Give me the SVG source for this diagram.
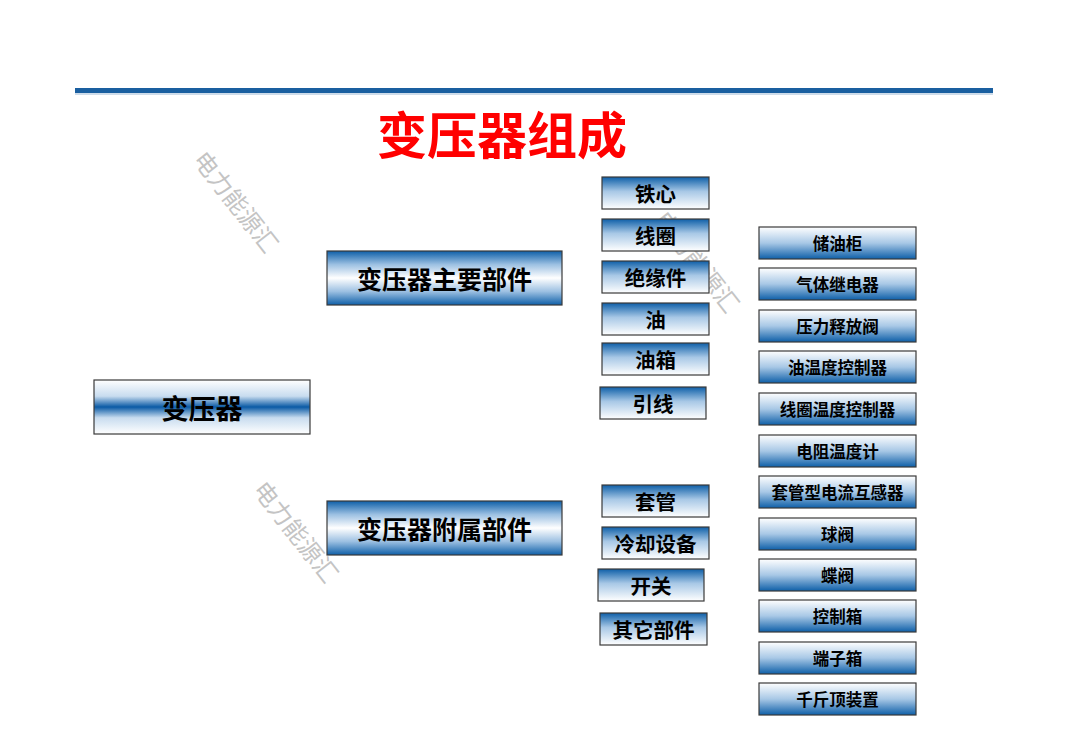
<svg xmlns="http://www.w3.org/2000/svg" width="1080" height="748" viewBox="0 0 1080 748">
<defs>
<linearGradient id="gRoot" x1="0" y1="0" x2="0" y2="1">
<stop offset="0" stop-color="#ffffff"/>
<stop offset="0.3" stop-color="#c8dcef"/>
<stop offset="0.5" stop-color="#0a5aa5"/>
<stop offset="0.7" stop-color="#c8dcef"/>
<stop offset="1" stop-color="#ffffff"/>
</linearGradient>
<linearGradient id="gMid" x1="0" y1="0" x2="0" y2="1">
<stop offset="0" stop-color="#0e5fa8"/>
<stop offset="0.25" stop-color="#9cc0e2"/>
<stop offset="0.5" stop-color="#ffffff"/>
<stop offset="0.75" stop-color="#9cc0e2"/>
<stop offset="1" stop-color="#0e5fa8"/>
</linearGradient>
<linearGradient id="gSmall" x1="0" y1="0" x2="0" y2="1">
<stop offset="0" stop-color="#0e5fa8"/>
<stop offset="0.45" stop-color="#a8c8e6"/>
<stop offset="1" stop-color="#ffffff"/>
</linearGradient>
<linearGradient id="gRight" x1="0" y1="0" x2="0" y2="1">
<stop offset="0" stop-color="#ffffff"/>
<stop offset="0.5" stop-color="#a8c8e6"/>
<stop offset="1" stop-color="#0e5fa8"/>
</linearGradient>
</defs>
<style>
text{font-family:"Noto Sans CJK SC","Liberation Sans",sans-serif;text-anchor:middle;dominant-baseline:central;fill:#000;font-weight:bold}
.box{stroke:#3a3a3a;stroke-width:1.2}
.root{fill:url(#gRoot)}
.mid{fill:url(#gMid)}
.small{fill:url(#gSmall)}
.right{fill:url(#gRight)}
.t-root{font-size:27px}
.t-mid{font-size:25px}
.t-small{font-size:20.5px}
.t-right{font-size:16.5px}
.wm{font-size:24px;fill:#c4c4c4;font-weight:normal;text-anchor:start;dominant-baseline:auto}
.title{font-size:50px;fill:#ff0000;font-weight:bold}
</style>
<rect width="1080" height="748" fill="#ffffff"/>
<rect x="75" y="88" width="918" height="5" fill="#1a5fa0"/>
<rect x="75" y="93" width="918" height="2" fill="#9dbad6" opacity="0.5"/>
<text class="title" x="502" y="132">变压器组成</text>
<g id="watermarks">
<text class="wm" transform="translate(192,160) rotate(52)">电力能源汇</text>
<text class="wm" transform="translate(252,490) rotate(52)">电力能源汇</text>
<text class="wm" transform="translate(653,220) rotate(52)">电力能源汇</text>
</g>
<g id="connectors"></g>
<g id="n-root"><rect class="box root" x="94" y="380" width="216" height="54"/><text class="t-root" x="202" y="407">变压器</text></g>
<g id="n-main"><rect class="box mid" x="327" y="251" width="235" height="54"/><text class="t-mid" x="444.500" y="278">变压器主要部件</text></g>
<g id="n-acc"><rect class="box mid" x="327" y="501" width="235" height="54"/><text class="t-mid" x="444.500" y="528">变压器附属部件</text></g>
<g id="n-core"><rect class="box small" x="602" y="177" width="107" height="32"/><text class="t-small" x="655.500" y="193">铁心</text></g>
<g id="n-coil"><rect class="box small" x="602" y="219" width="107" height="32"/><text class="t-small" x="655.500" y="235">线圈</text></g>
<g id="n-ins"><rect class="box small" x="602" y="261" width="107" height="32"/><text class="t-small" x="655.500" y="277">绝缘件</text></g>
<g id="n-oil"><rect class="box small" x="602" y="303" width="107" height="32"/><text class="t-small" x="655.500" y="319">油</text></g>
<g id="n-tank"><rect class="box small" x="602" y="343" width="107" height="32"/><text class="t-small" x="655.500" y="359">油箱</text></g>
<g id="n-lead"><rect class="box small" x="600" y="387" width="106" height="32"/><text class="t-small" x="653" y="403">引线</text></g>
<g id="n-bush"><rect class="box small" x="602" y="485" width="107" height="32"/><text class="t-small" x="655.500" y="501">套管</text></g>
<g id="n-cool"><rect class="box small" x="602" y="527" width="107" height="32"/><text class="t-small" x="655.500" y="543">冷却设备</text></g>
<g id="n-switch"><rect class="box small" x="598" y="569" width="106" height="32"/><text class="t-small" x="651" y="585">开关</text></g>
<g id="n-other"><rect class="box small" x="600" y="613" width="107" height="32"/><text class="t-small" x="653.500" y="629">其它部件</text></g>
<g id="n-r1"><rect class="box right" x="759" y="227" width="157" height="32"/><text class="t-right" x="837.500" y="243">储油柜</text></g>
<g id="n-r2"><rect class="box right" x="759" y="268" width="157" height="32"/><text class="t-right" x="837.500" y="284">气体继电器</text></g>
<g id="n-r3"><rect class="box right" x="759" y="310" width="157" height="32"/><text class="t-right" x="837.500" y="326">压力释放阀</text></g>
<g id="n-r4"><rect class="box right" x="759" y="351" width="157" height="32"/><text class="t-right" x="837.500" y="367">油温度控制器</text></g>
<g id="n-r5"><rect class="box right" x="759" y="393" width="157" height="32"/><text class="t-right" x="837.500" y="409">线圈温度控制器</text></g>
<g id="n-r6"><rect class="box right" x="759" y="435" width="157" height="32"/><text class="t-right" x="837.500" y="451">电阻温度计</text></g>
<g id="n-r7"><rect class="box right" x="759" y="476" width="157" height="32"/><text class="t-right" x="837.500" y="492">套管型电流互感器</text></g>
<g id="n-r8"><rect class="box right" x="759" y="518" width="157" height="32"/><text class="t-right" x="837.500" y="534">球阀</text></g>
<g id="n-r9"><rect class="box right" x="759" y="559" width="157" height="32"/><text class="t-right" x="837.500" y="575">蝶阀</text></g>
<g id="n-r10"><rect class="box right" x="759" y="600" width="157" height="32"/><text class="t-right" x="837.500" y="616">控制箱</text></g>
<g id="n-r11"><rect class="box right" x="759" y="642" width="157" height="32"/><text class="t-right" x="837.500" y="658">端子箱</text></g>
<g id="n-r12"><rect class="box right" x="759" y="683" width="157" height="32"/><text class="t-right" x="837.500" y="699">千斤顶装置</text></g>
</svg>
